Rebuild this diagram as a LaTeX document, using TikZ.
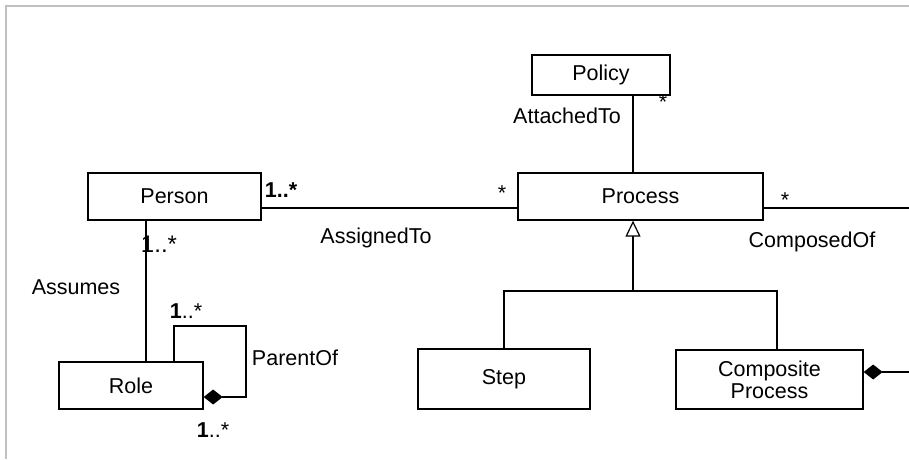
\documentclass[tikz,border=0pt]{standalone}
\usepackage{fontspec}
\setmainfont{Liberation Sans}
\usepackage{tikz}
\usetikzlibrary{arrows.meta, positioning}
\definecolor{framegray}{RGB}{192, 192, 192}

\begin{document}
\begin{tikzpicture}[x=1pt, y=-1pt, line width=1.3pt,
    classbox/.style={draw, fill=white, minimum height=47pt, inner sep=0pt,
                     font=\fontsize{21.5}{22}\selectfont, align=center},
    lbl/.style={anchor=base, inner sep=0pt, font=\fontsize{21.5}{22}\selectfont},
    diam/.style={-{Diamond[length=19pt, width=15pt]}},
    genarrow/.style={-{Triangle[open, length=16pt, width=15pt, line width=1.2pt]}}]
  \useasboundingbox (0,0) rectangle (909,459);

  % frame
  \draw[framegray, line width=2pt] (6,459) -- (6,5.5) -- (909,5.5);

  % classes
  \node[classbox, minimum width=138pt, minimum height=40pt] (policy) at (601,75) {Policy};
  \node[classbox, minimum width=173pt] (person) at (174.5,196.5) {Person};
  \node[classbox, minimum width=245pt] (process) at (640.5,196.5) {Process};
  \node[classbox, minimum width=144pt] (role) at (131,385.5) {Role};
  \node[classbox, minimum width=172pt, minimum height=60pt] (step) at (504,379) {Step};
  \node[classbox, minimum width=187pt, minimum height=59pt] (composite) at (769.5,379.5)
    {Composite\\Process};

  % helper points
  \coordinate (rightend) at (909,208);
  \coordinate (attach) at (633,0);
  \coordinate (gen) at (633,291);
  \coordinate (cj) at (777,291);
  \coordinate (assume) at (146,0);
  \coordinate (loopa) at (174,326);
  \coordinate (loopb) at (246,397);
  \coordinate (compend) at (909,372);

  % associations
  \draw (person.east |- rightend) -- (process.west |- rightend);
  \draw (process.east |- rightend) -- (rightend);
  \draw (policy.south -| attach) -- (process.north -| attach);
  \draw (person.south -| assume) -- (role.north -| assume);
  \draw[diam] (role.north -| loopa) -- (loopa) -| (loopb) -- (role.east |- loopb);
  \draw[diam] (compend) -- (composite.east |- compend);

  % generalization
  \draw[genarrow] (gen) -- (process.south -| gen);
  \draw (step.north) |- (cj) -- (composite.north -| cj);

  % labels
  \node[lbl] (m1) at (281,197) {\bfseries 1..*};
  \node[lbl] (m2) at (502,200) {*};
  \node[lbl] (assigned) at (376,243) {AssignedTo};
  \node[lbl, font=\fontsize{24}{26}\selectfont] (m3) at (159,252) {1..*};
  \node[lbl] (assumes) at (76,294) {Assumes};
  \node[lbl] (m4) at (186,318) {\bfseries 1\mdseries..*};
  \node[lbl] (parent) at (295,365) {ParentOf};
  \node[lbl] (m5) at (213,437) {\bfseries 1\mdseries..*};
  \node[lbl] (attached) at (567,123) {AttachedTo};
  \node[lbl] (m6) at (663,109) {*};
  \node[lbl] (m7) at (785,207) {*};
  \node[lbl] (composed) at (812,247) {ComposedOf};
\end{tikzpicture}
\end{document}
